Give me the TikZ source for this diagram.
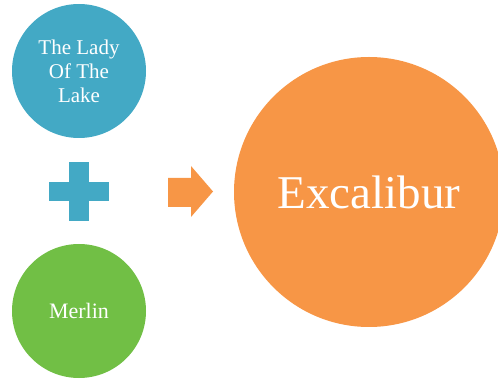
\documentclass[tikz,border=0pt]{standalone}
\usepackage{fontspec}
\setmainfont{Liberation Serif}
\definecolor{ladyblue}{HTML}{43A9C5}
\definecolor{merlingreen}{HTML}{71BF45}
\definecolor{swordorange}{HTML}{F79646}

\begin{document}
\begin{tikzpicture}[x=1pt,y=-1pt,
  disc/.style={circle,inner sep=0pt,text=white,align=center}]
\useasboundingbox (0,0) rectangle (498,379);
\node[disc,fill=ladyblue,minimum size=134pt,font=\fontsize{21}{24}\selectfont] (lady) at (79,71) {The Lady\\Of The\\Lake};
\node[disc,fill=merlingreen,minimum size=134pt,font=\fontsize{22}{26}\selectfont] (merlin) at (79,311) {Merlin};
\node[disc,fill=swordorange,minimum size=270pt,font=\fontsize{47}{54}\selectfont] (excalibur) at (369,192) {Excalibur};
% plus sign
\fill[ladyblue] (49,182) rectangle (109,201);
\fill[ladyblue] (69,162) rectangle (89,221);
% arrow
\fill[swordorange] (168,178) -- (191,178) -- (191,166) -- (213,191.5) -- (191,217) -- (191,207) -- (168,207) -- cycle;
\end{tikzpicture}
\end{document}
